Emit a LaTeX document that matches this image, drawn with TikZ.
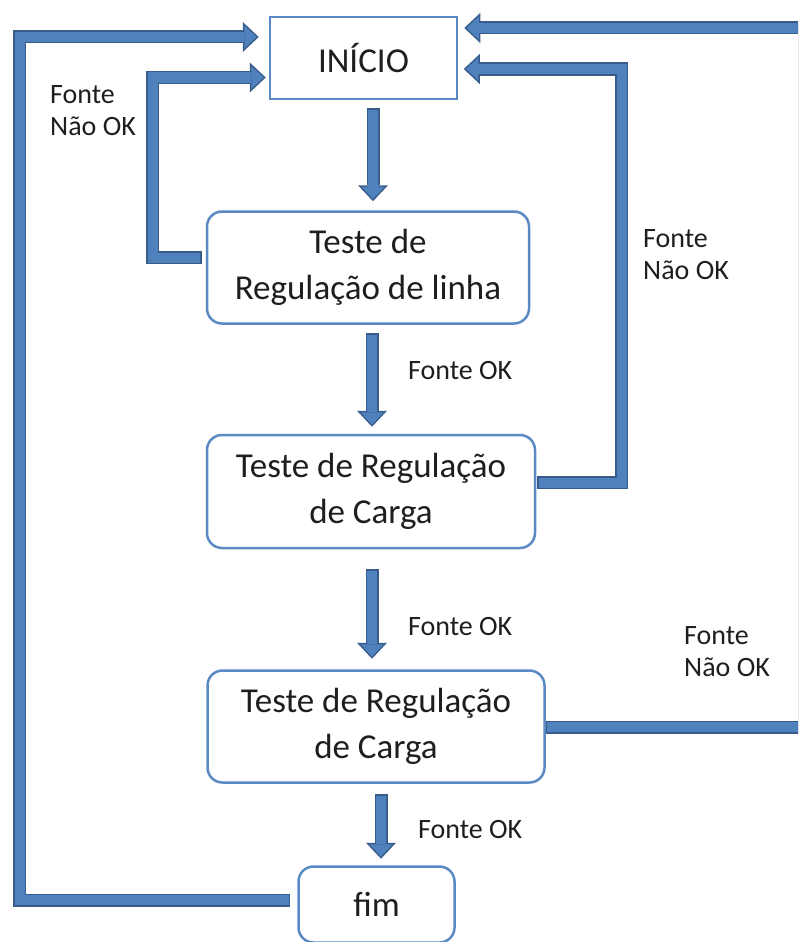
\documentclass[tikz,border=0pt]{standalone}
\usepackage{fontspec}
\setmainfont{Carlito}
\usepackage{tikz}
\usetikzlibrary{arrows.meta, calc}
\definecolor{barblue}{RGB}{79,129,189}
\definecolor{bardark}{RGB}{56,93,138}
\definecolor{boxblue}{RGB}{91,137,196}
\definecolor{textdark}{RGB}{30,30,30}
% block arrow: dark outline pass, then lighter fill pass
\newcommand{\bararrow}[1]{\draw[barout] #1; \draw[barin] #1;}

\begin{document}
\begin{tikzpicture}[x=1pt, y=-1pt,
  barout/.style={line width=13pt, draw=bardark, line join=miter,
    -{Triangle[width=30pt,length=16pt,line width=0pt]}},
  barin/.style={line width=10pt, draw=barblue, line join=miter, shorten <=1.5pt, shorten >=2.2pt,
    -{Triangle[width=23pt,length=12.3pt,line width=0pt]}},
  stepfont/.style={font=\fontsize{35}{46}\selectfont, text=textdark},
  startbox/.style={stepfont, draw=boxblue, line width=2.5pt, minimum width=187pt, minimum height=82pt},
  testbox/.style={stepfont, draw=boxblue, line width=2.5pt, rounded corners=15pt, align=center, inner sep=0pt},
  oklabel/.style={font=\fontsize{28}{32}\selectfont, text=textdark, anchor=west, align=left, inner sep=0pt}]
\useasboundingbox (0,0) rectangle (798,942);
\clip (0,0) rectangle (798,942);

% steps
\node[startbox] (inicio) at (363.5,58) {INÍCIO};
\node[testbox, minimum width=322pt, minimum height=112pt] (linha) at (368,267.5) {Teste de\\Regulação de linha};
\node[testbox, minimum width=328pt, minimum height=113pt] (cargaA) at (371,491.5) {Teste de Regulação\\de Carga};
\node[testbox, minimum width=337pt, minimum height=112pt] (cargaB) at (376,726.5) {Teste de Regulação\\de Carga};
\node[testbox, minimum width=156pt, minimum height=76pt] (fim) at (376.5,904.5) {fim};

% labels
\node[oklabel] (naoA) at (50,111) {Fonte\\Não OK};
\node[oklabel] (naoB) at (643,255) {Fonte\\Não OK};
\node[oklabel] (naoC) at (684,652) {Fonte\\Não OK};
\node[oklabel] (okA) at (408,371) {Fonte OK};
\node[oklabel] (okB) at (408,627) {Fonte OK};
\node[oklabel] (okC) at (418,830) {Fonte OK};

% loop corners
\coordinate (cornerW) at (19.5,37);
\coordinate (cornerIW) at (152.5,77.5);
\coordinate (cornerE) at (804.5,28);
\coordinate (cornerIE) at (621.5,69);

% down arrows
\bararrow{($(inicio.south)+(9.5,8)$) -- ($(linha.north)+(5,-9)$)}
\bararrow{($(linha.south)+(4,8.5)$) -- ($(cargaA.north)+(1,-7)$)}
\bararrow{($(cargaA.south)+(1,20)$) -- ($(cargaB.north)+(-4,-10.5)$)}
\bararrow{($(cargaB.south)+(5,10.5)$) -- ($(fim.north)+(4.5,-6.5)$)}

% return loops
\bararrow{($(fim.west)+(-7,-4.5)$) -| (cornerW) -- ($(inicio.west)+(-10,-21)$)}
\bararrow{($(linha.west)+(-4,-10)$) -| (cornerIW) -- ($(inicio.west)+(-3,19.5)$)}
\bararrow{($(cargaB.east)+(0,0.5)$) -| (cornerE) -- ($(inicio.east)+(6,-30)$)}
\bararrow{($(cargaA.east)+(1,-9)$) -| (cornerIE) -- ($(inicio.east)+(5.5,11)$)}
\end{tikzpicture}
\end{document}
